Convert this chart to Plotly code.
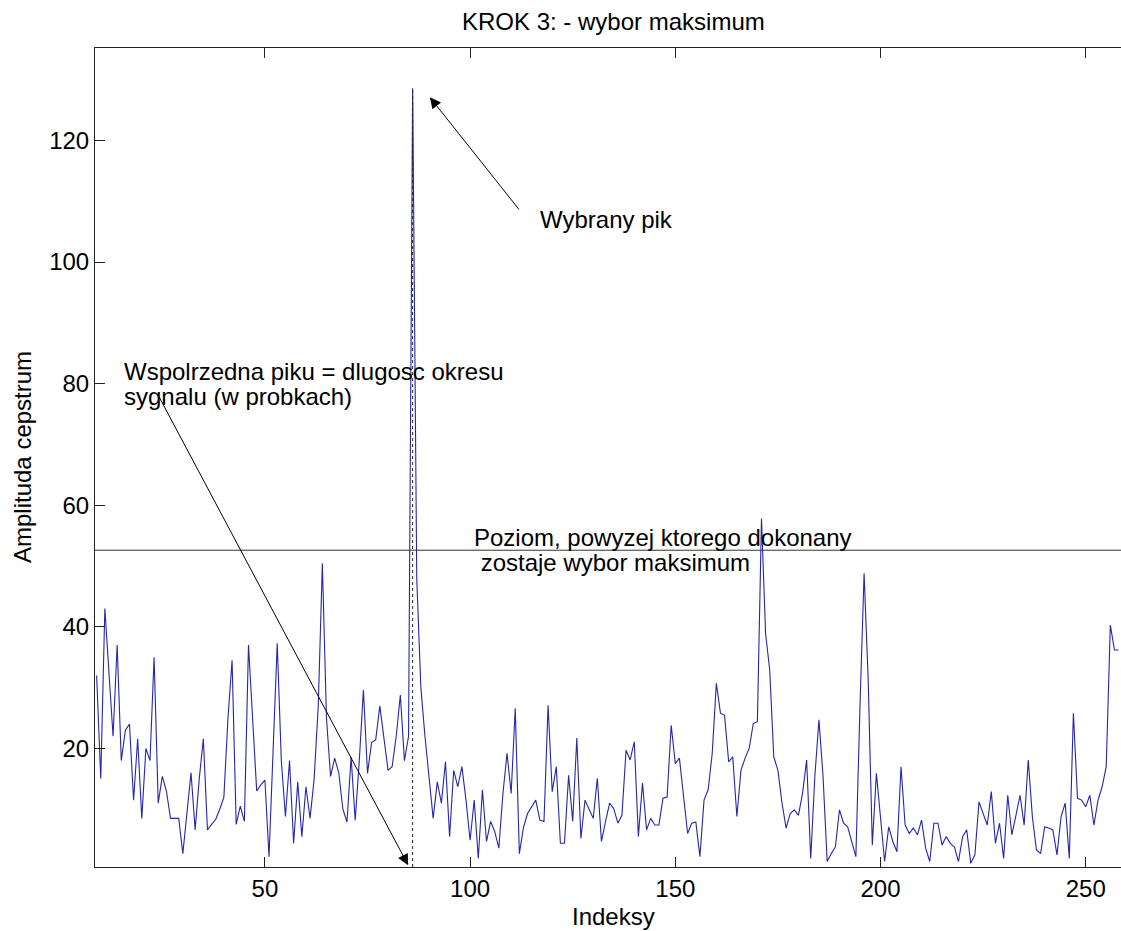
import plotly.graph_objects as go

# ---- data ----
indices = list(range(9, 259))
cepstrum = [
    32, 15, 43, 33, 22, 37, 18, 23, 24, 11.5,      # 9-18
    21.6, 8.5, 20, 18, 35, 11, 15.4, 13, 8.5, 8.5,  # 19-28
    8.5, 2.7, 10, 16, 6.6, 15, 21.6, 6.6, 7.5, 8.3, # 29-38
    10, 12, 25, 34.5, 7.5, 10.5, 8, 37, 25, 13,     # 39-48
    14, 14.8, 2.2, 20, 37.3, 18, 8.8, 18, 4.4, 14.5,  # 49-58
    5.5, 13.7, 8.5, 15, 27, 50.4, 25, 15.4, 18.4, 16, # 59-68
    10, 7.9, 18.6, 8.2, 18, 29.6, 15.9, 21, 21.4, 27, # 69-78
    22, 16.4, 17, 22, 28.8, 18, 22, 128.6, 48, 30,    # 79-88
    22, 15.4, 8.5, 14.5, 11, 17.8, 5.5, 16.4, 13.7, 17,  # 89-98
    11.5, 4.9, 11.5, 1.9, 13.2, 4.7, 8, 6.3, 3.6, 12.6,  # 99-108
    19.2, 12.6, 26.6, 2.7, 7, 9.3, 10.5, 11.5, 8.2, 8,   # 109-118
    27.1, 12.9, 17, 4.4, 4.4, 15.6, 8, 21.7, 5.2, 11.5,  # 119-128
    10, 8.5, 15.1, 4.7, 8, 11, 10.1, 7.7, 9, 19.7,       # 129-138
    18.1, 21.1, 5.5, 14.3, 6.6, 8.5, 7.4, 7.4, 11.8, 12, # 139-148
    23.8, 17.5, 18.4, 12.6, 6, 7.7, 7.9, 2.2, 11.5, 13.2,  # 149-158
    19.2, 30.7, 25.8, 25.5, 17.8, 18.6, 8.8, 16.4, 18.4, 20,  # 159-168
    24.1, 24.4, 57.8, 38.9, 32.9, 18.6, 16.4, 11, 6.9, 9.3,   # 169-178
    9.9, 9, 12.6, 18.1, 1.9, 15.4, 24.7, 15.4, 1.4, 2.7,      # 179-188
    3.8, 9.9, 7.7, 7.1, 4.4, 2.2, 26.9, 48.8, 31.3, 4.1,      # 189-198
    15.9, 8.2, 1.4, 7.1, 4.7, 3, 17, 7.4, 6, 6.9,             # 199-208
    5.8, 8.2, 3.6, 1.4, 7.7, 7.7, 4.1, 5.5, 4.4, 3.8,         # 209-218
    1.4, 5.5, 6.6, 1.1, 2.5, 11.2, 9.3, 7.4, 12.9, 4.4,       # 219-228
    7.7, 1.9, 12.3, 5.8, 9, 12.3, 7.4, 18.1, 8.8, 3.3,        # 229-238
    2.7, 7.1, 6.9, 6.6, 2.5, 8.8, 11, 1.9, 25.8, 11.8,        # 239-248
    11.5, 10.4, 12.3, 7.4, 11.5, 13.7, 17, 40.3, 36.2, 36.2,  # 249-258
]
x_ticks = [50, 100, 150, 200, 250]
y_ticks = [20, 40, 60, 80, 100, 120]
threshold = 52.6
peak_index = 86
peak_value = 128.6

title_text = "KROK 3: - wybor maksimum"
x_title = "Indeksy"
y_title = "Amplituda cepstrum"
peak_label = "Wybrany pik"
coord_label = ["Wspolrzedna piku = dlugosc okresu", "sygnalu (w probkach)"]
level_label = ["Poziom, powyzej ktorego dokonany", " zostaje wybor maksimum"]

FONT = "Liberation Sans, Arial, sans-serif"
W, H = 1121, 931
L, R, T, B = 95, 0, 48, 64
X_RANGE = [8.6, 258.6]
Y_RANGE = [0.5, 135.2]

fig = go.Figure()
fig.add_trace(go.Scatter(
    x=indices, y=cepstrum, mode="lines",
    line=dict(color="#2626ac", width=1.1),
    hoverinfo="skip", showlegend=False,
))

# threshold level and dotted vertical at the peak
fig.add_shape(type="line", xref="paper", yref="y", x0=0, x1=1,
              y0=threshold, y1=threshold, line=dict(color="#333333", width=1))
fig.add_shape(type="line", xref="x", yref="y", x0=peak_index, x1=peak_index,
              y0=Y_RANGE[0], y1=peak_value,
              line=dict(color="#222222", width=1, dash="dot"))

def px_x(px):
    return (px - L) / (W - L - R)

def px_y(py):
    return (H - B - py) / (H - T - B)

ann = []
txt = dict(family=FONT, size=24, color="black")
ann.append(dict(text=title_text, xref="paper", yref="paper", x=px_x(613), y=px_y(22),
                xanchor="center", yanchor="middle", showarrow=False, font=txt))
ann.append(dict(text=x_title, xref="paper", yref="paper", x=px_x(613), y=px_y(916),
                xanchor="center", yanchor="middle", showarrow=False, font=txt))
ann.append(dict(text=y_title, xref="paper", yref="paper", x=px_x(22), y=px_y(457),
                xanchor="center", yanchor="middle", textangle=-90, showarrow=False, font=txt))
ann.append(dict(text=peak_label, xref="paper", yref="paper", x=px_x(538), y=px_y(219),
                xanchor="left", yanchor="middle", showarrow=False, font=txt))
ann.append(dict(text=coord_label[0], xref="paper", yref="paper", x=px_x(122), y=px_y(371),
                xanchor="left", yanchor="middle", showarrow=False, font=txt))
ann.append(dict(text=coord_label[1], xref="paper", yref="paper", x=px_x(122), y=px_y(396),
                xanchor="left", yanchor="middle", showarrow=False, font=txt))
ann.append(dict(text=level_label[0], xref="paper", yref="paper", x=px_x(472), y=px_y(537),
                xanchor="left", yanchor="middle", showarrow=False, font=txt))
ann.append(dict(text=level_label[1].replace(" ", "&nbsp;", 1), xref="paper", yref="paper",
                x=px_x(472), y=px_y(562),
                xanchor="left", yanchor="middle", showarrow=False, font=txt))

# arrows (head at x,y ; tail at ax,ay)
ann.append(dict(text="", x=90.2, y=127.1, ax=112.2, ay=108.4, xref="x", yref="y",
                axref="x", ayref="y", showarrow=True, arrowhead=2, arrowsize=2.2,
                arrowwidth=1, arrowcolor="black", standoff=0))
ann.append(dict(text="", x=84.9, y=0.8, ax=24.0, ay=78.1, xref="x", yref="y",
                axref="x", ayref="y", showarrow=True, arrowhead=2, arrowsize=2.2,
                arrowwidth=1, arrowcolor="black", standoff=0))

fig.update_layout(
    width=W, height=H,
    margin=dict(l=L, r=R, t=T, b=B, pad=0),
    paper_bgcolor="white", plot_bgcolor="white",
    font=dict(family=FONT, size=24, color="black"),
    annotations=ann,
    showlegend=False,
)
fig.update_xaxes(
    range=X_RANGE, tickvals=x_ticks, ticks="inside", ticklen=10, tickwidth=1,
    tickcolor="#222222", showline=True, linecolor="#222222", linewidth=1,
    mirror="ticks", showgrid=False, zeroline=False,
    tickfont=dict(family=FONT, size=24, color="black"),
)
fig.update_yaxes(
    range=Y_RANGE, tickvals=y_ticks, ticks="inside", ticklen=10, tickwidth=1,
    tickcolor="#222222", showline=True, linecolor="#222222", linewidth=1,
    mirror=False, showgrid=False, zeroline=False,
    tickfont=dict(family=FONT, size=24, color="black"),
)

fig.write_html("out.html")
